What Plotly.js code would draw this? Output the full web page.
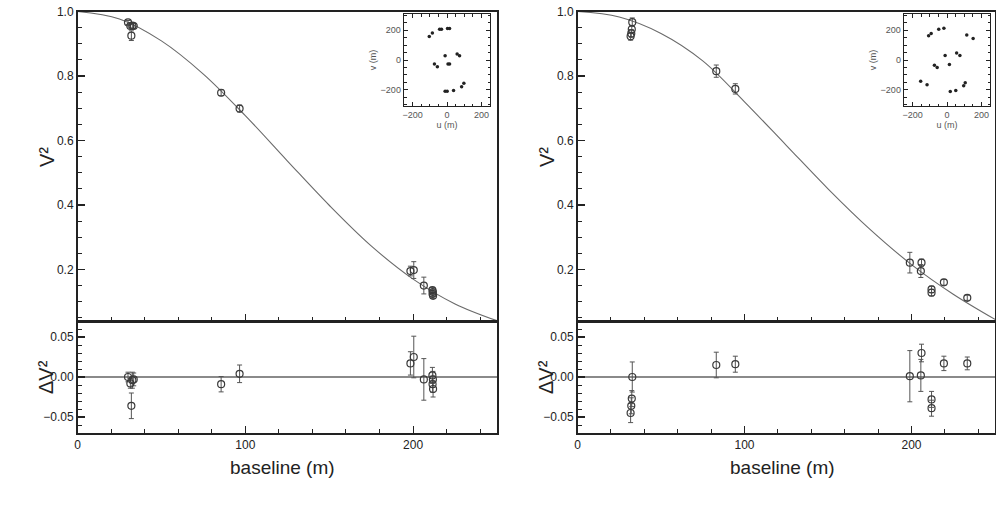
<!DOCTYPE html>
<html>
<head>
<meta charset="utf-8">
<script src="https://cdn.plot.ly/plotly-3.0.1.min.js"></script>
<style>
html,body{margin:0;padding:0;background:#fff;}
#chart{width:996px;height:509px;}
</style>
</head>
<body>
<div id="chart"></div>
<script>
// ---------- data ----------
// Left star: measured squared visibilities
var L_B    = [30.1, 31.5, 32.7, 33.5, 32.1, 85.6, 96.6, 198.4, 200.4, 206.4, 211.5, 211.8, 211.6, 211.9];
var L_V2   = [0.966, 0.955, 0.956, 0.955, 0.925, 0.748, 0.699, 0.195, 0.198, 0.150, 0.136, 0.130, 0.124, 0.118];
var L_err  = [0.006, 0.006, 0.010, 0.008, 0.015, 0.009, 0.011, 0.015, 0.026, 0.026, 0.008, 0.008, 0.008, 0.008];
var L_res  = [0.000, -0.008, -0.004, -0.003, -0.036, -0.009, 0.004, 0.017, 0.025, -0.003, 0.002, -0.003, -0.009, -0.015];
var L_rerr = [0.006, 0.006, 0.010, 0.008, 0.016, 0.0096, 0.011, 0.0146, 0.026, 0.026, 0.010, 0.010, 0.010, 0.010];
// Left model curve
var curveB   = [0, 25, 50, 75, 100, 125, 150, 175, 200, 225, 250];
var L_curve  = [1.0, 0.977, 0.909, 0.806, 0.677, 0.537, 0.399, 0.273, 0.170, 0.093, 0.041];
// Right star
var R_B    = [32.8, 32.5, 32.2, 31.8, 83.1, 94.5, 199.0, 205.6, 206.0, 212.0, 212.0, 219.4, 233.4];
var R_V2   = [0.967, 0.945, 0.932, 0.923, 0.815, 0.760, 0.221, 0.195, 0.221, 0.138, 0.128, 0.160, 0.112];
var R_err  = [0.013, 0.012, 0.012, 0.012, 0.019, 0.016, 0.032, 0.020, 0.011, 0.010, 0.010, 0.009, 0.008];
var R_res  = [0.000, -0.027, -0.036, -0.045, 0.015, 0.016, 0.001, 0.002, 0.030, -0.028, -0.039, 0.017, 0.017];
var R_rerr = [0.0188, 0.010, 0.010, 0.012, 0.016, 0.010, 0.032, 0.020, 0.011, 0.010, 0.010, 0.009, 0.008];
var R_curve = [1.0, 0.983, 0.932, 0.847, 0.720, 0.585, 0.450, 0.325, 0.215, 0.123, 0.045];
// uv coverage insets
var L_u = [-103, -85, -43, -32, 3, 15, -11, 59, 73, -73, -56, 6, 15, -11, 1, 38, 85, 98];
var L_v = [159, 182, 207, 207, 212, 212, 29, 41, 29, -27, -46, -27, -27, -210, -210, -205, -180, -157];
var R_u = [-107, -92, -48, -18, 115, 152, -11, 56, 75, -73, -57, 14, -153, -116, 19, 51, 97, 106];
var R_v = [163, 179, 207, 214, 168, 145, 30, 48, 30, -35, -51, -30, -143, -166, -212, -205, -173, -154];
// tick labels
var xTicks = [0, 100, 200];
var mainTicks = [0.2, 0.4, 0.6, 0.8, 1.0];
var resTicks = [-0.05, 0.00, 0.05];
var uvTicks = [-200, 0, 200];

// ---------- styling ----------
var W = 996, H = 509;
function fx(px){ return px / W; }
function fy(py){ return 1 - py / H; }
var FONT = "Liberation Sans, Arial, Helvetica, sans-serif";
var frameCol = '#222';
var ptCol = '#3a3a3a';

function dataTrace(x, y, e, xa, ya){
  return {x:x, y:y, type:'scatter', mode:'markers', xaxis:xa, yaxis:ya,
    marker:{symbol:'circle-open', size:7, color:ptCol, line:{width:1.2, color:ptCol}},
    error_y:{type:'data', array:e, visible:true, color:'#555', thickness:1, width:2.5},
    hoverinfo:'skip', showlegend:false};
}
function curveTrace(x, y, xa, ya){
  return {x:x, y:y, type:'scatter', mode:'lines', xaxis:xa, yaxis:ya,
    line:{color:'#6a6a6a', width:1.1, shape:'spline', smoothing:1.0},
    hoverinfo:'skip', showlegend:false};
}
function uvTrace(u, v, xa, ya){
  return {x:u, y:v, type:'scatter', mode:'markers', xaxis:xa, yaxis:ya,
    marker:{symbol:'circle', size:3.5, color:'#222'}, hoverinfo:'skip', showlegend:false};
}

var traces = [
  curveTrace(curveB, L_curve, 'x', 'y'),
  dataTrace(L_B, L_V2, L_err, 'x', 'y'),
  dataTrace(L_B, L_res, L_rerr, 'x2', 'y2'),
  curveTrace(curveB, R_curve, 'x3', 'y3'),
  dataTrace(R_B, R_V2, R_err, 'x3', 'y3'),
  dataTrace(R_B, R_res, R_rerr, 'x4', 'y4'),
  uvTrace(L_u, L_v, 'x5', 'y5'),
  uvTrace(R_u, R_v, 'x6', 'y6')
];

function baseAxis(extra){
  var a = {showline:true, mirror:true, linecolor:frameCol, linewidth:1.5,
    ticks:'inside', tickcolor:frameCol, tickwidth:1.2, ticklen:7,
    showgrid:false, zeroline:false,
    tickfont:{family:FONT, size:12, color:'#222'}, fixedrange:true};
  for (var k in extra) a[k] = extra[k];
  return a;
}
var Lx = [fx(77.5), fx(497)];
var Rx = [fx(577.5), fx(995)];
var mainY = [fy(321), fy(11.5)];
var resY = [fy(433), fy(321)];

function mainX(anchor, dom){
  return baseAxis({domain:dom, anchor:anchor, range:[0,250], tickmode:'array', tickvals:xTicks,
    showticklabels:false, minor:{dtick:20, tick0:0, ticks:'inside', ticklen:4, tickcolor:frameCol, tickwidth:1}});
}
function resX(anchor, dom){
  return baseAxis({domain:dom, anchor:anchor, range:[0,250], tickmode:'array', tickvals:xTicks,
    ticktext:['0','100','200'],
    minor:{dtick:20, tick0:0, ticks:'inside', ticklen:4, tickcolor:frameCol, tickwidth:1}});
}
function mainYax(anchor){
  return baseAxis({domain:mainY, anchor:anchor, range:[0.04,1.0], tickmode:'array', tickvals:mainTicks,
    tickformat:'.1f', minor:{dtick:0.05, tick0:0, ticks:'inside', ticklen:4, tickcolor:frameCol, tickwidth:1}});
}
function resYax(anchor){
  return baseAxis({domain:resY, anchor:anchor, range:[-0.07,0.07], tickmode:'array', tickvals:resTicks,
    tickformat:'.2f', zeroline:true, zerolinecolor:'#8a8a8a', zerolinewidth:1.4,
    minor:{dtick:0.01, tick0:0, ticks:'inside', ticklen:4, tickcolor:frameCol, tickwidth:1}});
}
function uvX(anchor, dom){
  return baseAxis({domain:dom, anchor:anchor, range:[-250,250], tickmode:'array', tickvals:uvTicks,
    mirror:'ticks', linewidth:1.3, ticklen:4, tickwidth:1,
    tickfont:{family:FONT, size:9, color:'#555'},
    title:{text:'u (m)', font:{family:FONT, size:9, color:'#555'}, standoff:2},
    minor:{dtick:50, tick0:0, ticks:'inside', ticklen:2.5, tickcolor:frameCol, tickwidth:1}});
}
function uvY(anchor, dom){
  return baseAxis({domain:dom, anchor:anchor, range:[-310,310], tickmode:'array', tickvals:uvTicks,
    mirror:'ticks', linewidth:1.3, ticklen:4, tickwidth:1,
    tickfont:{family:FONT, size:9, color:'#555'},
    title:{text:'v (m)', font:{family:FONT, size:9, color:'#555'}, standoff:2},
    minor:{dtick:50, tick0:0, ticks:'inside', ticklen:2.5, tickcolor:frameCol, tickwidth:1}});
}
var insetY = [fy(106), fy(14)];

function ann(text, px, py, size, angle){
  return {text:text, xref:'paper', yref:'paper', x:fx(px), y:fy(py), xanchor:'center', yanchor:'middle',
    showarrow:false, textangle:angle, font:{family:FONT, size:size, color:'#222'}};
}

var layout = {
  width:W, height:H, margin:{l:0, r:0, t:0, b:0},
  paper_bgcolor:'#fff', plot_bgcolor:'rgba(0,0,0,0)',
  font:{family:FONT, color:'#222'},
  showlegend:false,
  xaxis: mainX('y', Lx),
  yaxis: mainYax('x'),
  xaxis2: resX('y2', Lx),
  yaxis2: resYax('x2'),
  xaxis3: mainX('y3', Rx),
  yaxis3: mainYax('x3'),
  xaxis4: resX('y4', Rx),
  yaxis4: resYax('x4'),
  xaxis5: uvX('y5', [fx(404), fx(490)]),
  yaxis5: uvY('x5', insetY),
  xaxis6: uvX('y6', [fx(904), fx(990)]),
  yaxis6: uvY('x6', insetY),
  annotations: [
    ann('V²', 47, 157, 20, -90),
    ann('ΔV²', 46, 377, 20, -90),
    ann('V²', 547, 157, 20, -90),
    ann('ΔV²', 546, 377, 20, -90),
    ann('baseline (m)', 282, 467, 19, 0),
    ann('baseline (m)', 782, 467, 19, 0)
  ]
};

Plotly.newPlot('chart', traces, layout, {staticPlot:true, displayModeBar:false});
</script>
</body>
</html>
